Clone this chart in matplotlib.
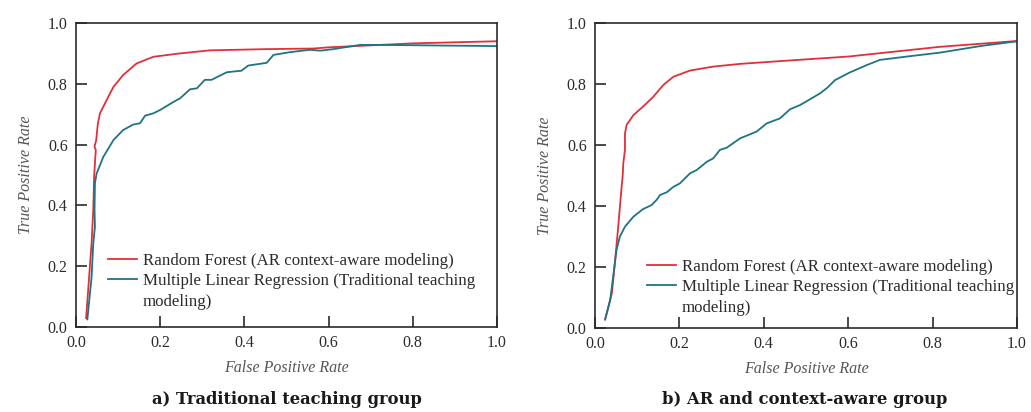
import matplotlib
matplotlib.use("Agg")
import matplotlib.pyplot as plt

# panel a) traditional teaching group
rf_a_fpr = [0.024, 0.037, 0.041, 0.043, 0.047, 0.044, 0.048, 0.052, 0.057, 0.073, 0.089,
            0.112, 0.144, 0.184, 0.247, 0.318, 0.45, 0.564, 0.6, 0.8, 1.0]
rf_a_tpr = [0.029, 0.275, 0.385, 0.494, 0.582, 0.593, 0.615, 0.67, 0.703, 0.747, 0.79,
            0.829, 0.867, 0.889, 0.9, 0.91, 0.914, 0.916, 0.92, 0.933, 0.94]
mlr_a_fpr = [0.027, 0.037, 0.041, 0.045, 0.044, 0.045, 0.049, 0.065, 0.089, 0.112, 0.136,
             0.152, 0.164, 0.184, 0.2, 0.231, 0.247, 0.271, 0.287, 0.306, 0.322, 0.358,
             0.393, 0.409, 0.453, 0.469, 0.508, 0.556, 0.58, 0.611, 0.675, 0.722, 1.0]
mlr_a_tpr = [0.025, 0.165, 0.275, 0.33, 0.385, 0.473, 0.505, 0.56, 0.615, 0.648, 0.666,
             0.67, 0.695, 0.703, 0.714, 0.74, 0.752, 0.782, 0.785, 0.813, 0.813, 0.838,
             0.843, 0.86, 0.869, 0.895, 0.904, 0.912, 0.909, 0.914, 0.928, 0.928, 0.924]

# panel b) AR and context-aware group
rf_b_fpr = [0.024, 0.04, 0.047, 0.055, 0.061, 0.066, 0.067, 0.069, 0.071, 0.071, 0.075,
            0.091, 0.114, 0.138, 0.162, 0.186, 0.225, 0.28, 0.344, 0.438, 0.6, 0.818, 1.0]
rf_b_tpr = [0.028, 0.114, 0.212, 0.332, 0.43, 0.507, 0.54, 0.562, 0.584, 0.638, 0.666,
            0.698, 0.726, 0.758, 0.797, 0.824, 0.844, 0.857, 0.866, 0.875, 0.89, 0.922, 0.941]
mlr_b_fpr = [0.024, 0.036, 0.043, 0.051, 0.059, 0.071, 0.091, 0.114, 0.134, 0.146, 0.154,
             0.17, 0.186, 0.201, 0.225, 0.241, 0.265, 0.28, 0.296, 0.312, 0.344, 0.383,
             0.407, 0.438, 0.462, 0.486, 0.533, 0.549, 0.569, 0.604, 0.644, 0.675, 0.739,
             0.818, 0.916, 1.0]
mlr_b_tpr = [0.028, 0.092, 0.168, 0.256, 0.3, 0.332, 0.365, 0.39, 0.403, 0.42, 0.436,
             0.445, 0.463, 0.474, 0.507, 0.518, 0.545, 0.556, 0.584, 0.591, 0.622, 0.644,
             0.671, 0.687, 0.717, 0.731, 0.769, 0.786, 0.813, 0.838, 0.862, 0.879, 0.89,
             0.903, 0.925, 0.94]

labels = ["Random Forest (AR context-aware modeling)",
          "Multiple Linear Regression (Traditional teaching", "modeling)"]
titles = ["a) Traditional teaching group", "b) AR and context-aware group"]
ticks = [0.0, 0.2, 0.4, 0.6, 0.8, 1.0]

RED = "#e0303a"
TEAL = "#1f7482"
DARK = "#2b2b2b"

plt.rcParams["font.family"] = ["Liberation Serif", "DejaVu Serif"]

fig = plt.figure(figsize=(10.31, 4.12), dpi=100)
W, H = 1031, 412
boxes = [(76, 23, 497, 327), (595, 23, 1017, 328)]
leg_anchor = [(108, 253), (647, 259)]
title_x = [287, 805]

data = [(rf_a_fpr, rf_a_tpr, mlr_a_fpr, mlr_a_tpr),
        (rf_b_fpr, rf_b_tpr, mlr_b_fpr, mlr_b_tpr)]

for i, (x0, y0, x1, y1) in enumerate(boxes):
    ax = fig.add_axes([x0 / W, 1 - y1 / H, (x1 - x0) / W, (y1 - y0) / H])
    rfx, rfy, mx, my = data[i]
    ax.plot(rfx, rfy, color=RED, lw=1.3, label=labels[0])
    ax.plot(mx, my, color=TEAL, lw=1.3, label=labels[1])
    ax.plot([], [], color="none", label=labels[2])
    ax.set_xlim(0, 1)
    ax.set_ylim(0, 1)
    ax.set_xticks(ticks)
    ax.set_yticks(ticks)
    ax.set_xticklabels([f"{t:.1f}" for t in ticks])
    ax.set_yticklabels([f"{t:.1f}" for t in ticks])
    ax.tick_params(direction="in", length=8, width=1.2, color=DARK,
                   labelsize=11.5, labelcolor=DARK, pad=6)
    for s in ax.spines.values():
        s.set_color(DARK)
        s.set_linewidth(1.2)
    ax.set_xlabel("False Positive Rate", style="italic", fontsize=11.5, color="#555555", labelpad=6)
    ax.set_ylabel("True Positive Rate", style="italic", fontsize=11.5, color="#555555", labelpad=10)
    lx, ly = leg_anchor[i]
    ax.legend(loc="upper left", bbox_to_anchor=(lx / W, 1 - ly / H), bbox_transform=fig.transFigure,
              frameon=False, fontsize=12.2, handlelength=1.7, handletextpad=0.36,
              labelspacing=0.26, borderpad=0, borderaxespad=0, labelcolor=DARK)
    fig.text(title_x[i] / W, 1 - 400 / H, titles[i], ha="center", va="center",
             fontsize=11.8, fontweight="bold", family="DejaVu Serif", color="#1a1a1a")

fig.savefig("out.png", dpi=100, facecolor="white")
